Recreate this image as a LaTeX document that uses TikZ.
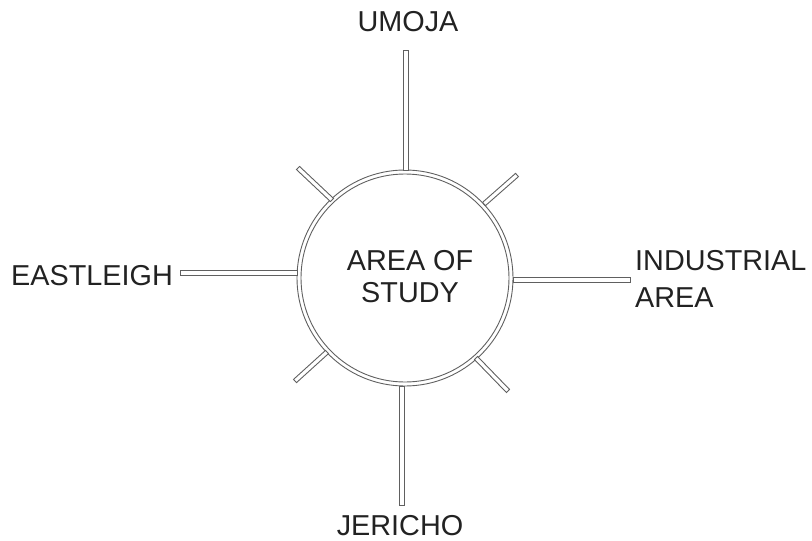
\documentclass[tikz,border=0pt]{standalone}
\usepackage{fontspec}
\setmainfont{Liberation Sans}
\usetikzlibrary{calc}
\definecolor{ink}{HTML}{222222}
\definecolor{lineink}{HTML}{606060}
\tikzset{
  lbl/.style={text=ink, font=\fontsize{28.8}{35}\selectfont, inner sep=0pt},
  barline/.style={draw=lineink, line width=0.9pt, fill=white},
  ring/.style={draw=lineink, line width=0.9pt}
}
\newcommand{\mybar}[2]{\draw[barline] ($(#1)!2.2pt!90:(#2)$) -- ($(#2)!2.2pt!-90:(#1)$) -- ($(#2)!2.2pt!90:(#1)$) -- ($(#1)!2.2pt!-90:(#2)$) -- cycle;}
\begin{document}
\begin{tikzpicture}[x=1pt,y=-1pt]
\useasboundingbox (0,0) rectangle (812,541);
\coordinate (c) at (405,278);
% circle
\node[circle, minimum size=216pt, inner sep=0pt] (study) at (c) {};
\draw[ring] (c) circle (108);
\draw[ring] (c) circle (104);
\node[lbl, align=center, font=\fontsize{28.8}{32}\selectfont] (studylbl) at (410,277) {AREA OF\\STUDY};
% endpoints
\coordinate (t1) at (406,50);   \coordinate (t2) at (406,170);
\coordinate (b1) at (402,386);  \coordinate (b2) at (402,505);
\coordinate (l1) at (180,273);  \coordinate (l2) at (297,273);
\coordinate (r1) at (513,280);  \coordinate (r2) at (630,280);
\coordinate (nw1) at (298,168); \coordinate (nw2) at (332,200);
\coordinate (ne1) at (517,175); \coordinate (ne2) at (484,204);
\coordinate (sw1) at (295,381); \coordinate (sw2) at (327,352);
\coordinate (se1) at (508,391); \coordinate (se2) at (476,358);
\mybar{t1}{t2}
\mybar{b1}{b2}
\mybar{l1}{l2}
\mybar{r1}{r2}
\mybar{nw1}{nw2}
\mybar{ne1}{ne2}
\mybar{sw1}{sw2}
\mybar{se1}{se2}
% labels
\node[lbl] (umoja) at (408,22) {UMOJA};
\node[lbl, anchor=east] (eastleigh) at (173,276) {EASTLEIGH};
\node[lbl, anchor=west, align=left, font=\fontsize{28.8}{37}\selectfont] (industrial) at (635,279) {INDUSTRIAL\\AREA};
\node[lbl] (jericho) at (400,526) {JERICHO};
\end{tikzpicture}
\end{document}
